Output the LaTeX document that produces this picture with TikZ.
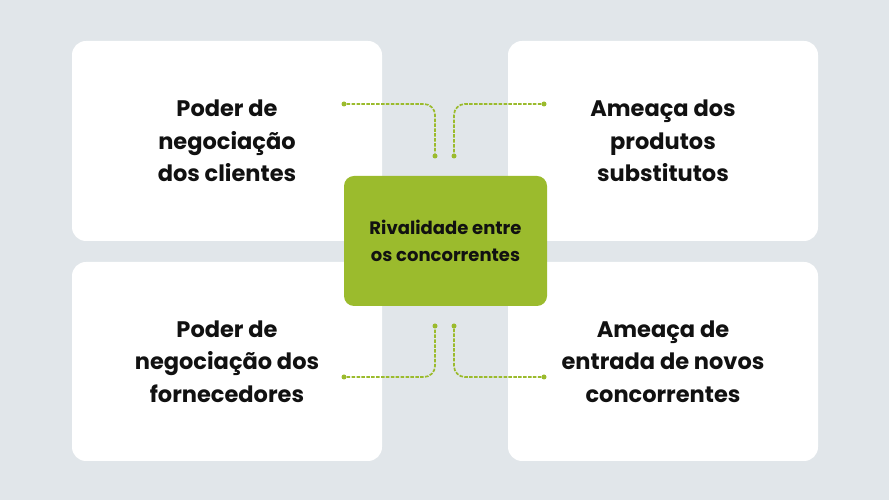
\documentclass[tikz,border=0pt]{standalone}
\usepackage{fontspec}
\setmainfont{Poppins}
\usepackage{tikz}
\definecolor{fundo}{HTML}{E1E6EA}
\definecolor{verde}{HTML}{9BBB2D}
\definecolor{texto}{HTML}{111111}

\begin{document}
\begin{tikzpicture}[x=1pt,y=1pt,
	forca/.style={fill=white,rounded corners=14pt,minimum width=310pt,minimum height=200pt,align=center,
		font=\fontsize{22.5}{32.5}\selectfont\bfseries,text=texto},
	centro/.style={fill=verde,rounded corners=10pt,minimum width=203pt,minimum height=130pt,align=center,
		font=\fontsize{18}{27}\selectfont\bfseries,text=texto},
	ponto/.style={circle,fill=verde,inner sep=0pt,minimum size=5pt},
	liga/.style={verde,line width=1.7pt,dash pattern=on 3.5pt off 1.4pt,rounded corners=11pt}]
		\fill[fundo] (0,0) rectangle (889,500);
		\node[forca] (clientes) at (227,359) {Poder de\\negociação\\dos clientes};
		\node[forca] (substitutos) at (663,359) {Ameaça dos\\produtos\\substitutos};
		\node[forca,minimum height=199pt] (fornecedores) at (227,138.5) {Poder de\\negociação dos\\fornecedores};
		\node[forca,minimum height=199pt] (entrantes) at (663,138.5) {Ameaça de\\entrada de novos\\concorrentes};
		\node[centro] (rivalidade) at (445.5,259) {Rivalidade entre\\os concorrentes};
		% pontos das ligacoes
		\node[ponto] (p1) at (344,396) {};
		\node[ponto] (p2) at (435,344) {};
		\node[ponto] (p3) at (454,344) {};
		\node[ponto] (p4) at (544,396) {};
		\node[ponto] (p5) at (435,174) {};
		\node[ponto] (p6) at (344,123) {};
		\node[ponto] (p7) at (454,174) {};
		\node[ponto] (p8) at (544,123) {};
		\draw[liga] (p1) -| (p2);
		\draw[liga] (p4) -| (p3);
		\draw[liga] (p6) -| (p5);
		\draw[liga] (p8) -| (p7);
	\end{tikzpicture}
\end{document}
